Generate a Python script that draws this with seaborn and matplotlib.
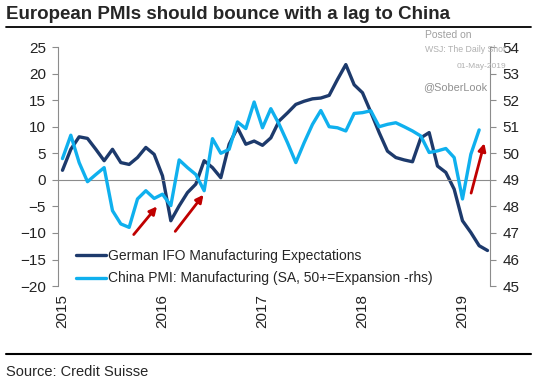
import numpy as np
import matplotlib.pyplot as plt
from matplotlib.lines import Line2D
from matplotlib.transforms import ScaledTranslation
import seaborn as sns

# monthly data, Jan 2015 onwards
german_ifo = [1.8, 5.75, 8.1, 7.8, 5.75, 3.6, 5.75, 3.25, 2.9, 4.2, 6.1, 4.8,
              0.75, -7.7, -4.9, -2.4, -0.8, 3.6, 2.3, 0.4, 6.7, 9.8, 6.7, 7.3,
              6.5, 7.9, 11.1, 12.6, 14.2, 14.8, 15.25, 15.4, 15.9, 18.9, 21.7, 17.9,
              16.4, 12.75, 8.9, 5.4, 4.2, 3.75, 3.4, 7.9, 8.9, 2.6, 1.4, -1.75,
              -7.7, -9.9, -12.4, -13.3]
china_pmi = [49.8, 50.68, 49.65, 48.93, 49.2, 49.46, 47.84, 47.34, 47.21, 48.28, 48.59, 48.3,
             48.46, 48.03, 49.75, 49.46, 49.2, 48.59, 50.55, 50.0, 50.15, 51.18, 50.93, 51.93,
             50.96, 51.68, 51.09, 50.4, 49.65, 50.4, 51.09, 51.61, 51.0, 50.96, 50.84, 51.5,
             51.53, 51.6, 51.0, 51.09, 51.15, 51.0, 50.84, 50.65, 50.03, 50.09, 50.18, 49.84,
             48.28, 49.96, 50.88]
years = [2015, 2016, 2017, 2018, 2019]
# red arrows (start -> end), in (year, lhs value)
arrows = [((2015.754, -10.3), (2015.987, -5.0)),
          ((2016.169, -9.7), (2016.452, -2.8)),
          ((2019.128, -2.5), (2019.26, 6.9))]

# mid-month positions
x_ger = 2015 + (np.arange(len(german_ifo)) + 0.5) / 12
x_chn = 2015 + (np.arange(len(china_pmi)) + 0.5) / 12

DARK = "#1d3a6c"
LIGHT = "#0fb0ee"
GREY = "#8c8c8c"

sns.set_style("white")
plt.rcParams["font.family"] = ["Liberation Sans", "DejaVu Sans"]

fig = plt.figure(figsize=(5.4, 3.84), dpi=100)
ax = fig.add_axes([0.108, 0.255, 0.800, 0.6225])

sns.lineplot(x=x_ger, y=german_ifo, ax=ax, color=DARK, linewidth=2.4)
ax2 = ax.twinx()
sns.lineplot(x=x_chn, y=china_pmi, ax=ax2, color=LIGHT, linewidth=2.4)

ax.set_xlim(2015, 2019.32)
ax.set_ylim(-20, 25)
ax.set_yticks(range(-20, 30, 5))
ax2.set_ylim(45, 54)
ax2.set_yticks(range(45, 55))

# x axis line sits at zero, labels at the bottom
ax.spines["bottom"].set_position(("data", 0))
ax.spines["bottom"].set_color(GREY)
ax.set_xticks(years[1:])
ax.tick_params(axis="x", length=4, color=GREY, labelbottom=False)
lab = ax.secondary_xaxis("bottom")
lab.set_xticks(years)
lab.set_xticklabels([str(y) for y in years], rotation=90, fontsize=11, color="#222222")
lab.tick_params(length=0, pad=6)
lab.spines["bottom"].set_visible(False)
shift = ScaledTranslation(4 / 100, 0, fig.dpi_scale_trans)
for t in lab.get_xticklabels():
    t.set_transform(t.get_transform() + shift)

for a in (ax, ax2):
    a.spines["top"].set_visible(False)
    a.set_xlabel("")
    a.set_ylabel("")
ax.spines["right"].set_visible(False)
ax2.spines["left"].set_visible(False)
ax2.spines["bottom"].set_visible(False)
ax.spines["left"].set_color(GREY)
ax2.spines["right"].set_color(GREY)
ax.tick_params(axis="y", left=True, length=4, color=GREY, labelsize=11, labelcolor="#222222", pad=5)
ax2.tick_params(axis="y", right=True, length=4, color=GREY, labelsize=11, labelcolor="#222222", pad=5)

for start, end in arrows:
    ax2.annotate("", xy=end, xytext=start, xycoords=ax.transData, textcoords=ax.transData,
                 arrowprops=dict(arrowstyle="-|>", color="#c00000", lw=2, mutation_scale=11,
                                 shrinkA=0, shrinkB=0))

handles = [Line2D([], [], color=DARK, lw=2.4), Line2D([], [], color=LIGHT, lw=2.4)]
labels = ["German IFO Manufacturing Expectations",
          "China PMI: Manufacturing (SA, 50+=Expansion -rhs)"]
ax2.legend(handles, labels, loc="upper left", bbox_to_anchor=(0.04, 0.155), frameon=False,
           fontsize=10, handlelength=2.2, handletextpad=0.1, labelspacing=0.6,
           borderpad=0, borderaxespad=0)

fig.text(0.012, 0.963, "European PMIs should bounce with a lag to China",
         fontsize=13.5, fontweight="bold", va="center")
fig.add_artist(Line2D([0.011, 0.983], [0.93, 0.93], color="black", lw=1.3))
fig.add_artist(Line2D([0.011, 0.983], [0.078, 0.078], color="black", lw=1.5))
fig.text(0.012, 0.031, "Source: Credit Suisse", fontsize=10.5, va="center")

fig.text(0.787, 0.909, "Posted on", fontsize=7.5, color="#a0a0a0", va="center")
fig.text(0.787, 0.870, "WSJ: The Daily Shot", fontsize=6.3, color="#b0b0b0", va="center")
fig.text(0.937, 0.828, "01-May-2019", fontsize=6, color="#b0b0b0", va="center", ha="right")
fig.text(0.783, 0.773, "@SoberLook", fontsize=7.8, color="#909090", va="center")

fig.savefig("out.png", dpi=100)
